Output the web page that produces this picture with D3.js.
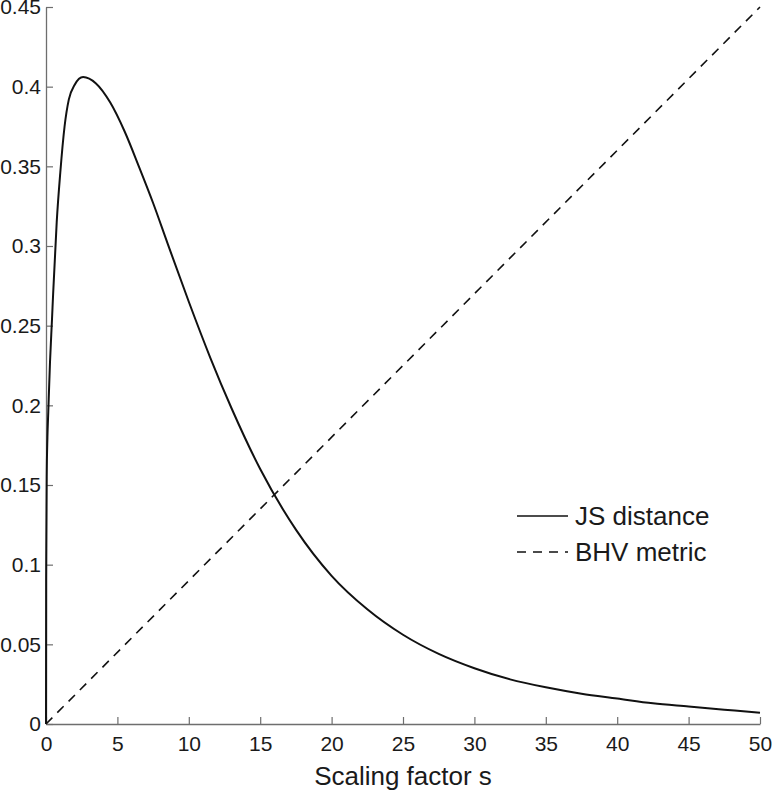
<!DOCTYPE html>
<html>
<head>
<meta charset="utf-8">
<script src="https://cdn.jsdelivr.net/npm/d3@7"></script>
<style>
  body { margin: 0; background: #fff; }
  svg { display: block; font-family: "Liberation Sans", Arial, sans-serif; }
</style>
</head>
<body>
<div id="chart"></div>
<script>
// JS distance curve
var sVals = [0, 0.01, 0.02, 0.05, 0.1, 0.16, 0.28, 0.42, 0.5, 0.75, 1, 1.3, 1.6, 2, 2.6, 3.5, 4.5, 5.5, 6.5, 7.5, 8.5, 10, 11.5, 13, 15, 17.5, 20, 22.5, 25, 27.5, 30, 32.5, 35, 37.5, 40, 42.5, 45, 47.5, 50];
var jsVals = [0, 0.09, 0.11, 0.155, 0.18, 0.196, 0.227, 0.254, 0.27, 0.315, 0.346, 0.375, 0.392, 0.401, 0.406, 0.402, 0.39, 0.372, 0.35, 0.327, 0.302, 0.265, 0.23, 0.198, 0.16, 0.122, 0.093, 0.072, 0.056, 0.044, 0.035, 0.028, 0.023, 0.019, 0.016, 0.013, 0.011, 0.009, 0.007];

// BHV metric (straight line)
var bhvS = [0, 50];
var bhvVals = [0, 0.45];

var xTicks = [0, 5, 10, 15, 20, 25, 30, 35, 40, 45, 50];
var yTicks = [0, 0.05, 0.1, 0.15, 0.2, 0.25, 0.3, 0.35, 0.4, 0.45];
var legendLabels = ["JS distance", "BHV metric"];

var width = 773, height = 791;
var margin = {left: 46, right: 13, top: 7, bottom: 67};

var svg = d3.select("#chart")
    .append("svg")
    .attr("width", width)
    .attr("height", height);

var x = d3.scaleLinear()
    .domain([0, 50])
    .range([margin.left, width - margin.right]);

var y = d3.scaleLinear()
    .domain([0, 0.45])
    .range([height - margin.bottom, margin.top]);

// axes (ticks pointing inward)
svg.append("g")
    .attr("transform", "translate(0," + y(0) + ")")
    .call(d3.axisBottom(x).tickValues(xTicks).tickSize(-7).tickSizeOuter(0).tickPadding(12));

svg.append("g")
    .attr("transform", "translate(" + x(0) + ",0)")
    .call(d3.axisLeft(y).tickValues(yTicks).tickSize(-7).tickSizeOuter(0).tickPadding(5)
        .tickFormat(function(d) { return +d.toFixed(2); }));

svg.selectAll(".domain").attr("stroke", "#6e6e6e").attr("stroke-width", 1.3);
svg.selectAll(".tick line").attr("stroke", "#6e6e6e").attr("stroke-width", 1.2);
svg.selectAll(".tick text")
    .attr("fill", "#1a1a1a")
    .style("font-size", "21px")
    .style("font-family", "Liberation Sans, Arial, sans-serif");

// axis title
svg.append("text")
    .attr("x", (x(0) + x(50)) / 2)
    .attr("y", 785)
    .attr("text-anchor", "middle")
    .attr("fill", "#1a1a1a")
    .style("font-size", "26px")
    .text("Scaling factor s");

// lines
var line = d3.line()
    .x(function(d) { return x(d[0]); })
    .y(function(d) { return y(d[1]); })
    .curve(d3.curveMonotoneX);

svg.append("path")
    .datum(sVals.map(function(s, i) { return [s, jsVals[i]]; }))
    .attr("d", line)
    .attr("fill", "none")
    .attr("stroke", "#111")
    .attr("stroke-width", 2);

svg.append("path")
    .datum(bhvS.map(function(s, i) { return [s, bhvVals[i]]; }))
    .attr("d", d3.line().x(function(d) { return x(d[0]); }).y(function(d) { return y(d[1]); }))
    .attr("fill", "none")
    .attr("stroke", "#111")
    .attr("stroke-width", 1.6)
    .attr("stroke-dasharray", "9,7");

// legend
var legend = svg.append("g");
var dashes = [null, "9,7"];
legendLabels.forEach(function(lab, i) {
    var ly = 516 + i * 36;
    legend.append("line")
        .attr("x1", 517)
        .attr("x2", 568)
        .attr("y1", ly)
        .attr("y2", ly)
        .attr("stroke", "#111")
        .attr("stroke-width", 1.6)
        .attr("stroke-dasharray", dashes[i]);
    legend.append("text")
        .attr("x", 575)
        .attr("y", ly)
        .attr("dy", "0.35em")
        .attr("fill", "#1a1a1a")
        .style("font-size", "26px")
        .text(lab);
});
</script>
</body>
</html>
